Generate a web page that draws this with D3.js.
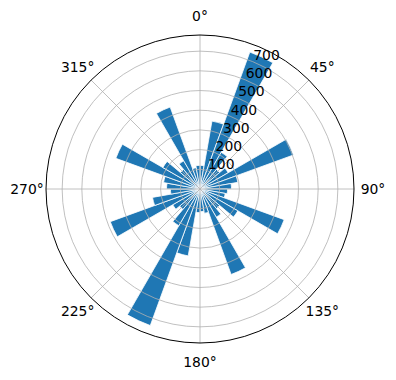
<!DOCTYPE html>
<html>
<head>
<meta charset="utf-8">
<script src="https://cdn.jsdelivr.net/npm/d3@7"></script>
<style>
  body { margin: 0; background: #fff; }
  text { font-family: "DejaVu Sans", sans-serif; font-size: 13.9px; fill: #000; }
</style>
</head>
<body>
<div id="chart"></div>
<script>
// Data: bin centers (degrees, clockwise from north) and bar heights
var binCenters = [5, 15, 25, 35, 45, 55, 65, 75, 85, 95, 105, 115, 125, 135, 145, 155, 165, 175,
    185, 195, 205, 215, 225, 235, 245, 255, 265, 275, 285, 295, 305, 315, 325, 335, 345, 355];
var binValues = [120, 350, 740, 215, 130, 165, 505, 195, 160, 140, 130, 455, 222, 130, 165, 462, 125, 115,
    120, 345, 738, 215, 135, 160, 485, 245, 150, 170, 188, 455, 218, 130, 165, 443, 110, 120];
var binWidth = 10;
var radialTicks = [100, 200, 300, 400, 500, 600, 700];
var angleTicks = [0, 45, 90, 135, 180, 225, 270, 315];

var width = 396, height = 380;
var cx = 200, cy = 189, outer = 154;
var rMax = 782;

var svg = d3.select("#chart").append("svg")
    .attr("width", width)
    .attr("height", height);

var g = svg.append("g")
    .attr("transform", "translate(" + cx + "," + cy + ")");

// Scales
var rScale = d3.scaleLinear().domain([0, rMax]).range([0, outer]);
var rad = function(deg) { return deg * Math.PI / 180; };

// Bars
var arc = d3.arc()
    .innerRadius(0)
    .outerRadius(function(d) { return rScale(d.v); })
    .startAngle(function(d) { return rad(d.a - binWidth / 2); })
    .endAngle(function(d) { return rad(d.a + binWidth / 2); });

var bars = binCenters.map(function(a, i) { return {a: a, v: binValues[i]}; });

g.selectAll("path.bar")
    .data(bars)
    .enter()
    .append("path")
    .attr("class", "bar")
    .attr("d", arc)
    .attr("fill", "#1f77b4")
    .attr("stroke", "#fff")
    .attr("stroke-width", 0.8);

// Grid circles
g.selectAll("circle.grid")
    .data(radialTicks)
    .enter()
    .append("circle")
    .attr("r", function(d) { return rScale(d); })
    .attr("fill", "none")
    .attr("stroke", "#b0b0b0")
    .attr("stroke-width", 0.8);

// Angular grid lines
g.selectAll("line.grid")
    .data(angleTicks)
    .enter()
    .append("line")
    .attr("x1", 0).attr("y1", 0)
    .attr("x2", function(d) { return outer * Math.sin(rad(d)); })
    .attr("y2", function(d) { return -outer * Math.cos(rad(d)); })
    .attr("stroke", "#b0b0b0")
    .attr("stroke-width", 0.8);

// Outer spine
g.append("circle")
    .attr("r", outer)
    .attr("fill", "none")
    .attr("stroke", "#000")
    .attr("stroke-width", 1);

// Angle labels
g.selectAll("text.theta")
    .data(angleTicks)
    .enter()
    .append("text")
    .attr("x", function(d) { return 173 * Math.sin(rad(d)); })
    .attr("y", function(d) { return -173 * Math.cos(rad(d)); })
    .attr("dy", "0.35em")
    .style("text-anchor", "middle")
    .text(function(d) { return d + "°"; });

// Radial labels at 22.5 degrees
g.selectAll("text.rlabel")
    .data(radialTicks)
    .enter()
    .append("text")
    .attr("x", function(d) { return rScale(d) * Math.sin(rad(22.5)) + 0.5; })
    .attr("y", function(d) { return -rScale(d) * Math.cos(rad(22.5)) - 6.5; })
    .attr("dy", "0.35em")
    .style("text-anchor", "start")
    .text(function(d) { return d; });
</script>
</body>
</html>
